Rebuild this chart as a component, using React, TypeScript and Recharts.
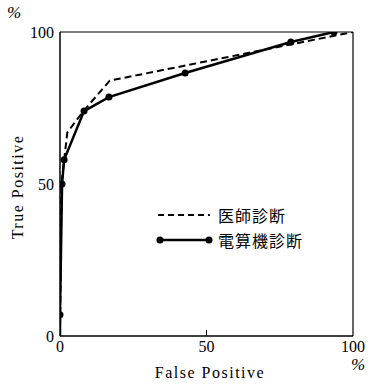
import React from "react";
import { LineChart, Line, XAxis, YAxis, ReferenceLine } from "recharts";

// ROC: 医師診断 vs 電算機診断
const doctorFP = [0, 0.5, 2.5, 8, 17, 100];
const doctorTP = [0, 50, 67, 74, 84, 100];
const computerFP = [0, 0, 0.7, 1.4, 8.2, 16.7, 42.7, 78.8, 93.5];
const computerTP = [0, 7, 50, 58, 74, 78.6, 86.5, 96.7, 100];
const axisTicks = [0, 50, 100];

const doctorData = doctorFP.map((fp, i) => ({ fp, tp: doctorTP[i] }));
const computerData = computerFP.map((fp, i) => ({ fp, tp: computerTP[i] }));

const serif = "'Liberation Serif', 'DejaVu Serif', serif";
const cjk = "'Noto Sans CJK JP', sans-serif";

function SolidDot(props: any) {
  const { cx, cy, index } = props;
  if (index === 0) return <g key={`d${index}`} />;
  return <circle key={`d${index}`} cx={cx} cy={cy} r={3.5} fill="#000" />;
}

export default function App() {
  return (
    <div style={{ position: "absolute", left: 0, top: 0, width: 372, height: 384, background: "#fff" }}>
      <LineChart width={372} height={384} margin={{ top: 32, right: 19, bottom: 18, left: 10 }}>
        <XAxis
          type="number"
          dataKey="fp"
          domain={[0, 100]}
          ticks={axisTicks}
          tickLine={false}
          tickSize={3}
          height={30}
          axisLine={{ stroke: "#000", strokeWidth: 1.5 }}
          tick={{ fill: "#000", fontSize: 16, fontFamily: serif }}
          allowDataOverflow
        />
        <YAxis
          type="number"
          dataKey="tp"
          domain={[0, 100]}
          ticks={axisTicks}
          tickLine={false}
          tickSize={4}
          width={50}
          axisLine={{ stroke: "#000", strokeWidth: 1.5 }}
          tick={{ fill: "#000", fontSize: 16, fontFamily: serif }}
          allowDataOverflow
        />
        <ReferenceLine y={100} stroke="#000" strokeWidth={1.2} />
        <ReferenceLine x={100} stroke="#000" strokeWidth={1.2} />
        <ReferenceLine segment={[{ x: 50, y: 0 }, { x: 50, y: 2 }]} stroke="#000" />
        <Line
          data={doctorData}
          dataKey="tp"
          stroke="#000"
          strokeWidth={2}
          strokeDasharray="7 4"
          dot={false}
          isAnimationActive={false}
        />
        <Line
          data={computerData}
          dataKey="tp"
          stroke="#000"
          strokeWidth={2.5}
          dot={SolidDot}
          isAnimationActive={false}
        />
      </LineChart>

      {/* unit marks and axis titles */}
      <div style={{ position: "absolute", left: 7, top: 3, fontFamily: serif, fontSize: 17, fontStyle: "italic" }}>%</div>
      <div style={{ position: "absolute", left: 351, top: 355, fontFamily: serif, fontSize: 17, fontStyle: "italic" }}>%</div>
      <div
        style={{
          position: "absolute",
          left: 140,
          top: 364,
          width: 140,
          textAlign: "center",
          fontFamily: serif,
          fontSize: 16,
          letterSpacing: 1.5,
          whiteSpace: "nowrap",
        }}
      >
        False Positive
      </div>
      <div
        style={{
          position: "absolute",
          left: 18,
          top: 187,
          transform: "translate(-50%, -50%) rotate(-90deg)",
          fontFamily: serif,
          fontSize: 16,
          letterSpacing: 1.5,
          whiteSpace: "nowrap",
        }}
      >
        True Positive
      </div>

      {/* legend */}
      <svg style={{ position: "absolute", left: 150, top: 205 }} width={65} height={45}>
        <line x1={8} y1={10} x2={60} y2={10} stroke="#000" strokeWidth={2} strokeDasharray="6 4" />
        <line x1={10} y1={35} x2={59} y2={35} stroke="#000" strokeWidth={2.5} />
        <circle cx={10} cy={35} r={3.5} fill="#000" />
        <circle cx={59} cy={35} r={3.5} fill="#000" />
      </svg>
      <div style={{ position: "absolute", left: 218, top: 204, fontFamily: cjk, fontSize: 16, lineHeight: "22px", letterSpacing: 1 }}>
        医師診断
      </div>
      <div style={{ position: "absolute", left: 218, top: 229, fontFamily: cjk, fontSize: 16, lineHeight: "22px", letterSpacing: 1 }}>
        電算機診断
      </div>
    </div>
  );
}
